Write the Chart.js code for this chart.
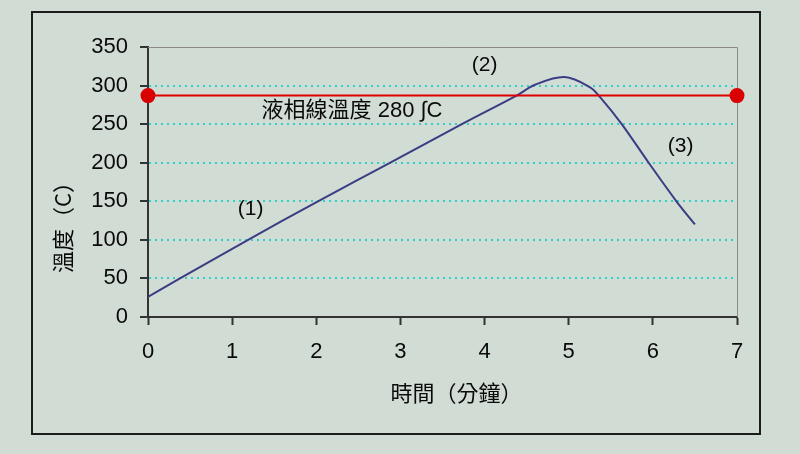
<!DOCTYPE html>
<html>
<head>
<meta charset="utf-8">
<title>溫度曲線</title>
<script src="https://cdn.jsdelivr.net/npm/chart.js@4.4.1/dist/chart.umd.min.js"></script>
<style>
    html, body { margin: 0; padding: 0; background: #d1dcd5; }
    #wrap { position: relative; width: 800px; height: 454px; overflow: hidden; }
    #box { position: absolute; left: 31px; top: 11px; width: 726px; height: 420px; border: 2px solid #1c1c1c; }
    #tempChart { position: absolute; left: 0; top: 0; }
</style>
</head>
<body>
<div id="wrap">
    <div id="box"></div>
    <canvas id="tempChart" width="800" height="454"></canvas>
</div>
<script>
// curve (time in minutes, temperature in C)
const timeMin = [0, 0.38, 1.19, 2.02, 2.88, 3.73, 4.38, 4.6, 4.95, 5.25, 5.38, 5.63, 5.95, 6.28, 6.5];
const tempC   = [26, 50, 100, 150, 200, 250, 287, 301, 311, 298, 284, 250, 200, 150, 120];

// liquidus line
const liquidusX = [0, 7];
const liquidusY = [287, 287];
const liquidusText = '液相線溫度 280 ∫C';

// stage labels
const stageText = ['(1)', '(2)', '(3)'];
const stageX = [1.22, 4.0, 6.33];
const stageY = [140, 326, 222];

const xTicks = [0, 1, 2, 3, 4, 5, 6, 7];
const yTicks = [0, 50, 100, 150, 200, 250, 300, 350];
const xTitle = '時間（分鐘）';
const yTitle = '溫度（C）';

const textColor = '#0a0a0a';
const latinFont = '"Liberation Sans", Arial, "Noto Sans CJK TC", sans-serif';
const cjkFont = '"Noto Sans CJK TC", "Noto Sans CJK SC", sans-serif';

const chartDecor = {
    id: 'chartDecor',
    beforeDatasetsDraw(chart) {
        const { ctx, chartArea: a } = chart;
        // grey frame on top and right of the plot
        ctx.save();
        ctx.strokeStyle = '#8a8a8a';
        ctx.lineWidth = 1;
        ctx.beginPath();
        ctx.moveTo(a.left, a.top + 0.5);
        ctx.lineTo(a.right + 0.5, a.top + 0.5);
        ctx.lineTo(a.right + 0.5, a.bottom);
        ctx.stroke();
        ctx.restore();
    },
    afterDatasetsDraw(chart) {
        const { ctx, chartArea: a, scales: { x, y } } = chart;
        ctx.save();
        ctx.fillStyle = textColor;
        ctx.textBaseline = 'middle';

        ctx.font = '21px ' + latinFont;
        ctx.textAlign = 'center';
        stageText.forEach((t, i) => {
            ctx.fillText(t, x.getPixelForValue(stageX[i]), y.getPixelForValue(stageY[i]));
        });

        ctx.font = '22px ' + latinFont;
        ctx.textAlign = 'left';
        ctx.fillText(liquidusText, x.getPixelForValue(1.35), y.getPixelForValue(267));

        // axis titles
        ctx.font = '22px ' + cjkFont;
        ctx.textAlign = 'center';
        ctx.fillText(xTitle, (a.left + a.right) / 2 + 14, a.bottom + 76);

        ctx.translate(a.left - 85, (a.top + a.bottom) / 2 + 40);
        ctx.rotate(-Math.PI / 2);
        ctx.fillText(yTitle, 0, 0);
        ctx.restore();
    }
};

let tempChart = new Chart(document.getElementById('tempChart'), {
    type: 'line',
    data: {
        datasets: [
            {
                label: 'liquidus',
                data: liquidusX.map((v, i) => ({ x: v, y: liquidusY[i] })),
                borderColor: '#e00000',
                borderWidth: 2,
                pointRadius: 6.5,
                pointBackgroundColor: '#d80000',
                pointBorderColor: '#d80000',
                clip: false
            },
            {
                label: 'temperature',
                data: timeMin.map((v, i) => ({ x: v, y: tempC[i] })),
                borderColor: '#3c3c84',
                borderWidth: 2,
                pointRadius: 0,
                tension: 0.35
            }
        ]
    },
    options: {
        responsive: false,
        animation: false,
        layout: {
            padding: { top: 47, right: 63, left: 0, bottom: 0 }
        },
        plugins: {
            legend: { display: false },
            tooltip: { enabled: false }
        },
        scales: {
            x: {
                type: 'linear',
                min: 0,
                max: 7,
                afterBuildTicks: (scale) => { scale.ticks = xTicks.map(v => ({ value: v })); },
                afterFit: (scale) => { scale.height = 137; },
                ticks: {
                    padding: 14,
                    color: textColor,
                    font: { family: latinFont, size: 22 }
                },
                grid: {
                    drawOnChartArea: false,
                    tickLength: 8,
                    tickColor: '#333',
                    tickWidth: 2
                },
                border: { color: '#333', width: 2 }
            },
            y: {
                min: 0,
                max: 350,
                afterBuildTicks: (scale) => { scale.ticks = yTicks.map(v => ({ value: v })); },
                afterFit: (scale) => { scale.width = 148; },
                ticks: {
                    padding: 12,
                    color: textColor,
                    font: { family: latinFont, size: 22 }
                },
                grid: {
                    color: (c) => (c.tick && (c.tick.value === 0 || c.tick.value === 350)) ? 'rgba(0,0,0,0)' : '#2fd0cc',
                    lineWidth: 2,
                    tickLength: 8,
                    tickColor: '#333',
                    tickWidth: 2,
                    tickBorderDash: []
                },
                border: { color: '#333', width: 2, dash: [2, 4] }
            }
        }
    },
    plugins: [chartDecor]
});
</script>
</body>
</html>
